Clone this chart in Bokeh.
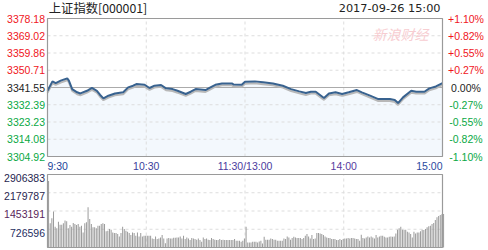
from bokeh.plotting import figure
from bokeh.models import Range1d, ColumnDataSource
from bokeh.core.properties import value
from bokeh.transform import dodge
from bokeh.embed import file_html
from bokeh.resources import INLINE

title_text = "上证指数[000001]"
date_text = "2017-09-26 15:00"
watermark_text = "新浪财经"

price_ticks = [3378.18, 3369.02, 3359.86, 3350.71, 3341.55, 3332.39, 3323.23, 3314.08, 3304.92]
price_label_text = ["3378.18", "3369.02", "3359.86", "3350.71", "3341.55", "3332.39", "3323.23", "3314.08", "3304.92"]
pct_labels = ["+1.10%", "+0.82%", "+0.55%", "+0.27%", "0.00%", "-0.27%", "-0.55%", "-0.82%", "-1.10%"]
label_colors = ["#f0161c"] * 4 + ["#222222"] + ["#0aa844"] * 4
prev_close = 3341.55

time_ticks = [0, 60, 120, 180, 240]
time_labels = ["9:30", "10:30", "11:30/13:00", "14:00", "15:00"]
time_align = ["left", "center", "center", "center", "right"]
time_colors = ["#22449a", "#3a3d9c", "#4a3a9e", "#563a9e", "#2a4aa0"]

vol_ticks = [2906383, 2179787, 1453191, 726596]
vol_label_text = ["2906383", "2179787", "1453191", "726596"]
vol_colors = ["#1f1f50", "#2a1f50", "#5a1f5a", "#1f2f5f"]

price_minutes = [0, 3, 5, 8, 12, 13, 15, 18, 20, 24, 27, 30, 32, 34, 37, 41, 46, 49, 52, 54,
                 59, 62, 65, 69, 72, 76, 79, 84, 87, 90, 96, 99, 102, 106, 112, 113, 118, 120,
                 126, 131, 137, 143, 148, 153, 157, 160, 163, 168, 171, 175, 179, 183, 188, 191,
                 196, 201, 208, 211, 213, 216, 221, 224, 229, 232, 236, 240]
prices = [3339.8, 3344.8, 3343.9, 3345.2, 3346.4, 3345.2, 3340.7, 3339.0, 3338.4, 3339.8,
          3341.3, 3339.8, 3337.6, 3335.8, 3337.2, 3338.4, 3339.0, 3341.6, 3342.5, 3343.4,
          3343.0, 3341.3, 3342.5, 3342.9, 3341.1, 3340.7, 3339.8, 3338.1, 3339.3, 3340.7,
          3340.2, 3341.6, 3343.0, 3343.7, 3343.7, 3343.2, 3343.0, 3344.6,
          3344.8, 3344.3, 3343.7, 3342.5, 3340.7, 3339.5, 3338.6, 3339.3, 3339.3, 3336.0,
          3338.4, 3339.0, 3338.1, 3339.0, 3340.2, 3339.0, 3337.2, 3335.4, 3335.4, 3334.9,
          3333.3, 3336.3, 3339.8, 3339.3, 3339.3, 3341.1, 3342.1, 3343.9]

volumes = [
    2650000, 963000, 1164000, 1432000, 830000, 763000, 1030000, 910000, 910000, 963000,
    1070000, 1044000, 763000, 897000, 830000, 977000, 937000, 897000, 937000, 830000,
    870000, 602000, 963000, 1004000, 1606000, 1137000, 937000, 803000, 803000, 763000,
    870000, 870000, 937000, 963000, 937000, 642000, 669000, 736000, 709000, 602000,
    575000, 575000, 535000, 442000, 575000, 830000, 736000, 669000, 629000, 575000,
    495000, 602000, 575000, 468000, 602000, 442000, 575000, 442000, 468000, 468000,
    468000, 468000, 468000, 361000, 335000, 442000, 335000, 361000, 401000, 495000,
    361000, 174000, 361000, 375000, 361000, 361000, 388000, 388000, 401000, 401000,
    442000, 361000, 468000, 335000, 401000, 361000, 294000, 375000, 361000, 335000,
    308000, 361000, 294000, 227000, 401000, 335000, 361000, 308000, 294000, 375000,
    335000, 308000, 294000, 294000, 335000, 294000, 308000, 294000, 294000, 294000,
    294000, 294000, 294000, 335000, 268000, 268000, 268000, 227000, 268000, 361000,
    830000,
    201000, 201000, 201000, 227000, 227000, 227000, 201000, 241000, 268000, 161000,
    428000, 308000, 308000, 308000, 361000, 335000, 308000, 308000, 268000, 268000,
    268000, 268000, 361000, 335000, 442000, 401000, 308000, 375000, 428000, 401000,
    375000, 375000, 375000, 335000, 375000, 468000, 535000, 442000, 361000, 495000,
    335000, 361000, 575000, 575000, 562000, 535000, 495000, 442000, 401000, 375000,
    375000, 335000, 335000, 335000, 294000, 294000, 335000, 294000, 335000, 361000,
    361000, 375000, 361000, 375000, 375000, 361000, 335000, 335000, 268000, 508000,
    375000, 361000, 401000, 442000, 401000, 442000, 401000, 361000, 495000, 401000,
    442000, 468000, 468000, 428000, 401000, 401000, 428000, 442000, 428000, 442000,
    562000, 709000, 763000, 830000, 709000, 696000, 709000, 629000, 602000, 535000,
    401000, 629000, 562000, 602000, 602000, 642000, 709000, 696000, 736000, 803000,
    843000, 870000, 937000, 977000, 1097000, 1204000, 1250000, 1298000, 1320000, 1338000,
]
vol_minutes = list(range(len(volumes)))

# ---------------- layout (pixels) ----------------
W, H = 488, 250
PLOT_L, PLOT_R = 47, 442
PRICE_T, PRICE_B = 18, 156
VOL_T, VOL_B = 174, 247

FONT = "Liberation Sans"
FS = "10.5px"
GRID_COLOR = "#dddddd"
FRAME_COLOR = "#9a9a9a"

xmin, xmax = time_ticks[0], time_ticks[-1]
xs = (xmax - xmin) / (PLOT_R - PLOT_L)
pmin, pmax = price_ticks[-1], price_ticks[0]
ps = (pmax - pmin) / (PRICE_B - PRICE_T)
vmin, vmax = 0, vol_ticks[0]
vs = (vmax - vmin) / (VOL_B - VOL_T)

p = figure(width=W, height=H, output_backend="svg", toolbar_location=None,
           x_axis_type=None, y_axis_type=None, title=None,
           x_range=Range1d(xmin - PLOT_L * xs, xmax + (W - PLOT_R) * xs),
           y_range=Range1d(pmin - (H - PRICE_B) * ps, pmax + PRICE_T * ps),
           min_border=0, min_border_left=0, min_border_right=0,
           min_border_top=0, min_border_bottom=0)
p.extra_y_ranges = {"vol": Range1d(vmin - (H - VOL_B) * vs, vmax + VOL_T * vs)}
p.outline_line_color = None
p.background_fill_color = "white"
p.border_fill_color = "white"
p.grid.visible = False

# ---- price panel ----
p.varea(x=price_minutes, y1=pmin, y2=prices, fill_color="#f3f8fd")
p.segment(x0=xmin, x1=xmax, y0=price_ticks[1:-1], y1=price_ticks[1:-1],
          line_color=GRID_COLOR, line_dash="3 3", line_width=1)
p.segment(x0=time_ticks[1:-1], x1=time_ticks[1:-1], y0=pmin, y1=pmax,
          line_color=GRID_COLOR, line_dash="3 3", line_width=1)
p.segment(x0=xmin, x1=xmax, y0=prev_close, y1=prev_close, line_color="#ababab", line_width=1.2)

shadow = [val - 1.0 for val in prices]
p.line(price_minutes, shadow, line_color="#b8b8b8", line_width=2)
p.line(price_minutes, prices, line_color="#38628f", line_width=2)
p.quad(left=xmin, right=xmax, bottom=pmin, top=pmax, fill_color=None,
       line_color=FRAME_COLOR, line_width=1.2)

left_src = ColumnDataSource(dict(y=price_ticks, t=price_label_text, c=label_colors))
p.text(x=xmin, y="y", text="t", source=left_src, x_offset=-2.5,
       text_color="c", text_align="right", text_baseline="middle",
       text_font=value(FONT), text_font_size=FS)
right_src = ColumnDataSource(dict(y=price_ticks, t=pct_labels, c=label_colors))
p.text(x=xmax, y="y", text="t", source=right_src, x_offset=23.5,
       text_color="c", text_align="center", text_baseline="middle",
       text_font=value(FONT), text_font_size=FS)
time_src = ColumnDataSource(dict(x=time_ticks, t=time_labels, a=time_align, c=time_colors))
p.text(x="x", y=pmin, text="t", source=time_src, y_offset=9.8,
       text_color="c", text_align="a", text_baseline="middle",
       text_font=value(FONT), text_font_size=FS)

p.text(x=[xmin], y=[pmax], text=[title_text], x_offset=1.3, y_offset=-10.5,
       text_color="#222222", text_align="left", text_baseline="middle",
       text_font=value("Noto Sans CJK SC"), text_font_size="12.3px")
p.text(x=[xmax], y=[pmax], text=[date_text], x_offset=-2, y_offset=-10.5,
       text_color="#222222", text_align="right", text_baseline="middle",
       text_font=value("DejaVu Sans"), text_font_size="11.3px")
p.text(x=[xmax], y=[pmax], text=[watermark_text], x_offset=-42, y_offset=15.5,
       text_color="#f7cdd1", text_align="center", text_baseline="middle",
       text_font=value("Noto Sans CJK SC"), text_font_size="14px", text_font_style="italic")

# ---- volume panel ----
p.segment(x0=xmin, x1=xmax, y0=vol_ticks[1:], y1=vol_ticks[1:], y_range_name="vol",
          line_color=GRID_COLOR, line_dash="3 3", line_width=1)
p.segment(x0=time_ticks[1:-1], x1=time_ticks[1:-1], y0=vmin, y1=vmax, y_range_name="vol",
          line_color=GRID_COLOR, line_dash="3 3", line_width=1)
p.quad(left=xmin, right=xmax, bottom=vmin, top=vmax, y_range_name="vol", fill_color=None,
       line_color=FRAME_COLOR, line_width=1.2)
vol_src = ColumnDataSource(dict(m=vol_minutes, v=volumes))
p.vbar(x=dodge("m", 0.65, range=p.x_range), top="v", bottom=vmin, width=0.62, source=vol_src,
       y_range_name="vol", fill_color="#9c9c9c", line_color=None)
vlab_src = ColumnDataSource(dict(y=vol_ticks, t=vol_label_text, c=vol_colors))
p.text(x=xmin, y="y", text="t", source=vlab_src, y_range_name="vol", x_offset=-2.5, y_offset=3.3,
       text_color="c", text_align="right", text_baseline="middle",
       text_font=value(FONT), text_font_size=FS)

open("out.html", "w").write(file_html(p, INLINE))
